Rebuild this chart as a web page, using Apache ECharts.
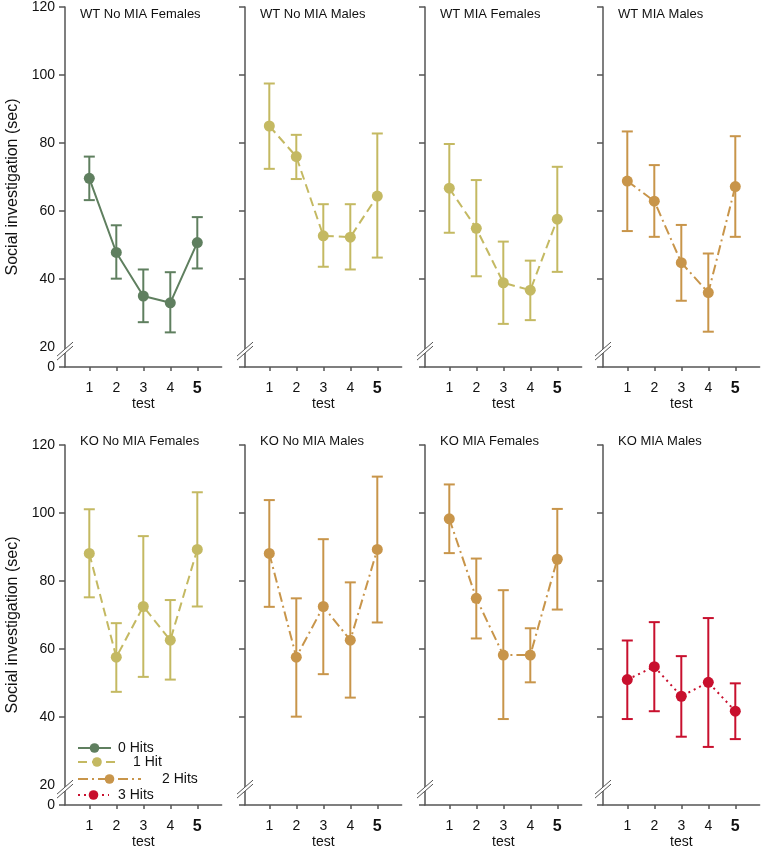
<!DOCTYPE html>
<html><head><meta charset="utf-8">
<script src="https://cdn.jsdelivr.net/npm/echarts@6/dist/echarts.min.js"></script>
<style>html,body{margin:0;padding:0;background:#fff}#c{width:762px;height:847px}</style>
</head><body><div id="c"></div>
<script>
// ---- data ----
const tests = [1, 2, 3, 4, 5];
const yTickValues = [20, 40, 60, 80, 100, 120];
const panelTitles = ['WT No MIA Females', 'WT No MIA Males', 'WT MIA Females', 'WT MIA Males',
                     'KO No MIA Females', 'KO No MIA Males', 'KO MIA Females', 'KO MIA Males'];
const hitNames = ['0 Hits', '1 Hit', '2 Hits', '3 Hits'];
const panelHits = [0, 1, 1, 2, 1, 2, 2, 3];

const wtNoMiaF_mean = [69.6, 47.8, 35.0, 33.0, 50.7];
const wtNoMiaF_hi   = [76.0, 55.8, 42.8, 42.0, 58.2];
const wtNoMiaF_lo   = [63.2, 40.1, 27.3, 24.3, 43.1];

const wtNoMiaM_mean = [85.0, 76.0, 52.7, 52.3, 64.4];
const wtNoMiaM_hi   = [97.5, 82.4, 62.0, 62.0, 82.8];
const wtNoMiaM_lo   = [72.4, 69.4, 43.6, 42.8, 46.3];

const wtMiaF_mean = [66.7, 54.9, 38.9, 36.7, 57.6];
const wtMiaF_hi   = [79.7, 69.1, 51.0, 45.4, 73.0];
const wtMiaF_lo   = [53.6, 40.8, 26.8, 27.9, 42.1];

const wtMiaM_mean = [68.8, 62.9, 44.8, 36.0, 67.2];
const wtMiaM_hi   = [83.4, 73.5, 55.9, 47.5, 82.0];
const wtMiaM_lo   = [54.1, 52.4, 33.6, 24.5, 52.4];

const koNoMiaF_mean = [88.1, 57.6, 72.5, 62.6, 89.3];
const koNoMiaF_hi   = [101.1, 67.6, 93.2, 74.4, 106.1];
const koNoMiaF_lo   = [75.2, 47.4, 51.8, 51.0, 72.5];

const koNoMiaM_mean = [88.1, 57.6, 72.5, 62.6, 89.3];
const koNoMiaM_hi   = [103.8, 74.9, 92.3, 79.6, 110.7];
const koNoMiaM_lo   = [72.4, 40.1, 52.6, 45.7, 67.8];

const koMiaF_mean = [98.3, 74.9, 58.2, 58.2, 86.4];
const koMiaF_hi   = [108.4, 86.6, 77.3, 66.1, 101.2];
const koMiaF_lo   = [88.2, 63.1, 39.4, 50.2, 71.6];

const koMiaM_mean = [51.0, 54.8, 46.1, 50.2, 41.7];
const koMiaM_hi   = [62.5, 67.9, 57.9, 69.1, 49.9];
const koMiaM_lo   = [39.4, 41.7, 34.2, 31.2, 33.5];

const panelMeans = [wtNoMiaF_mean, wtNoMiaM_mean, wtMiaF_mean, wtMiaM_mean, koNoMiaF_mean, koNoMiaM_mean, koMiaF_mean, koMiaM_mean];
const panelHi = [wtNoMiaF_hi, wtNoMiaM_hi, wtMiaF_hi, wtMiaM_hi, koNoMiaF_hi, koNoMiaM_hi, koMiaF_hi, koMiaM_hi];
const panelLo = [wtNoMiaF_lo, wtNoMiaM_lo, wtMiaF_lo, wtMiaM_lo, koNoMiaF_lo, koNoMiaM_lo, koMiaF_lo, koMiaM_lo];

// ---- styles ----
const hitColors = ['#5f7f5f', '#c4b962', '#c8954a', '#c8102e'];
const hitDash = ['solid', [9, 5], [10, 4, 2, 4], [2, 4]];
const FONT = "'Liberation Sans', Arial, sans-serif";
const AX = '#555';
const Y_MIN = 20 - 20 / 3.4;   // compressed 0-20 break region
const lefts = [65, 245, 425, 603];
const tops = [7, 445];
const GW = 156.6, GH = 360;

const chart = echarts.init(document.getElementById('c'), null, {renderer: 'canvas'});

const grids = [], xAxes = [], yAxes = [], series = [], titles = [];
for (let p = 0; p < 8; p++) {
  const col = p % 4, row = Math.floor(p / 4);
  grids.push({left: lefts[col], top: tops[row], width: GW, height: GH, outerBoundsMode: 'none', containLabel: false});
  xAxes.push({
    type: 'value', gridIndex: p, min: 0.1, max: 5.9,
    axisLine: {show: true, onZero: false, lineStyle: {color: AX, width: 1.5}},
    axisTick: {show: true, length: 4, customValues: tests, lineStyle: {color: AX, width: 1.5}},
    axisLabel: {show: true, customValues: tests, margin: 14, fontSize: 14, color: '#111', fontFamily: FONT,
      formatter: v => v === 5 ? '{b|5}' : String(v),
      rich: {b: {fontSize: 16, fontWeight: 'bold', color: '#111', fontFamily: FONT}}},
    splitLine: {show: false},
    name: 'test', nameLocation: 'middle', nameGap: 30, nameMoveOverlap: false,
    nameTextStyle: {fontSize: 14, color: '#111', fontFamily: FONT}
  });
  yAxes.push({
    type: 'value', gridIndex: p, min: Y_MIN, max: 120,
    axisLine: {show: true, lineStyle: {color: AX, width: 1.5}},
    axisTick: {show: true, length: 6, customValues: [Y_MIN, 40, 60, 80, 100, 120], lineStyle: {color: AX, width: 1.5}},
    axisLabel: {show: col === 0, customValues: [Y_MIN].concat(yTickValues), margin: 10, fontSize: 14, color: '#111', fontFamily: FONT,
      formatter: v => v < 19 ? '0' : String(Math.round(v))},
    splitLine: {show: false},
    name: col === 0 ? 'Social investigation (sec)' : '', nameLocation: 'middle', nameGap: 44, nameMoveOverlap: false,
    nameTextStyle: {fontSize: 16, color: '#111', fontFamily: FONT}
  });
  titles.push({text: panelTitles[p], left: lefts[col] + 15, top: row === 0 ? 8 : 435, padding: 0,
    textStyle: {fontSize: 13, fontWeight: 'normal', color: '#111', fontFamily: FONT}});
  const h = panelHits[p], color = hitColors[h];
  series.push({
    type: 'custom', name: hitNames[h] + ' err', xAxisIndex: p, yAxisIndex: p, z: 2,
    data: tests.map((t, i) => [t, panelLo[p][i], panelHi[p][i]]),
    encode: {x: 0, y: [1, 2]},
    renderItem: (params, api) => {
      const x = api.value(0);
      const a = api.coord([x, api.value(2)]), b = api.coord([x, api.value(1)]);
      const w = 5.5, st = {stroke: color, lineWidth: 2};
      return {type: 'group', children: [
        {type: 'line', shape: {x1: a[0], y1: a[1], x2: b[0], y2: b[1]}, style: st},
        {type: 'line', shape: {x1: a[0] - w, y1: a[1], x2: a[0] + w, y2: a[1]}, style: st},
        {type: 'line', shape: {x1: b[0] - w, y1: b[1], x2: b[0] + w, y2: b[1]}, style: st}
      ]};
    }
  });
  series.push({
    type: 'line', name: hitNames[h], xAxisIndex: p, yAxisIndex: p, z: 3,
    data: tests.map((t, i) => [t, panelMeans[p][i]]),
    symbol: 'circle', symbolSize: 11, showSymbol: true,
    lineStyle: {color: color, width: 2, type: hitDash[h]},
    itemStyle: {color: color},
    animation: false
  });
}

const legendCfg = [
  {name: '0 Hits', top: 741, w: 33, pad: 2},
  {name: '1 Hit', top: 755, w: 38, pad: 12},
  {name: '2 Hits', top: 772, w: 63, pad: 16},
  {name: '3 Hits', top: 788, w: 31, pad: 4}
];
const legends = legendCfg.map(l => ({
  data: [l.name], left: 77, top: l.top, itemWidth: l.w, itemHeight: 12, padding: 0,
  selectedMode: false,
  textStyle: {fontSize: 14, color: '#111', fontFamily: FONT, padding: [0, 0, 0, l.pad]}
}));

chart.setOption({
  animation: false,
  backgroundColor: '#fff',
  textStyle: {fontFamily: FONT},
  title: titles, grid: grids, xAxis: xAxes, yAxis: yAxes, series: series, legend: legends
});

// axis-break marks "//" on each y axis
const gfx = [];
for (let p = 0; p < 8; p++) {
  const c = chart.convertToPixel({xAxisIndex: p, yAxisIndex: p}, [0.1, 18.8]);
  const cx = c[0], cy = c[1];
  gfx.push({type: 'polygon', z: 100, shape: {points: [[cx - 8, cy + 5], [cx + 8, cy - 9], [cx + 8, cy - 5], [cx - 8, cy + 9]]},
    style: {fill: '#fff'}});
  gfx.push({type: 'line', z: 101, shape: {x1: cx - 8, y1: cy + 5, x2: cx + 8, y2: cy - 9}, style: {stroke: AX, lineWidth: 1}});
  gfx.push({type: 'line', z: 101, shape: {x1: cx - 8, y1: cy + 9, x2: cx + 8, y2: cy - 5}, style: {stroke: AX, lineWidth: 1}});
}
chart.setOption({graphic: gfx});
</script></body></html>
